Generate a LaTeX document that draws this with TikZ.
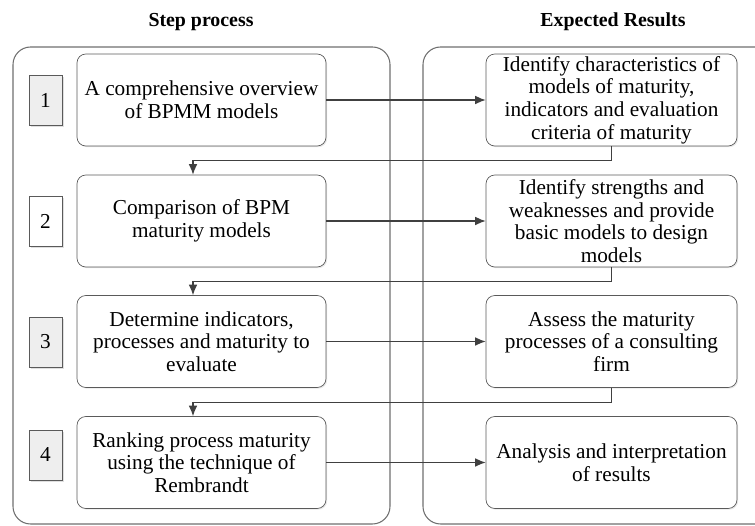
\documentclass[tikz,border=0pt]{standalone}
\usepackage{fontspec}
\setmainfont{Liberation Serif}
\usepackage{xcolor}
\usetikzlibrary{
arrows.meta,
positioning,
calc,
shadows
}
\definecolor{LineGray}{HTML}{404040}
\definecolor{BoxGray}{HTML}{5A5A5A}
\definecolor{PanelGray}{HTML}{6E6E6E}
\definecolor{NumFill}{HTML}{EEEEEE}

\begin{document}
\begin{tikzpicture}[x=0.02cm,y=-0.02cm,>={Latex[length=6pt,width=5pt]},every node/.style={font=\fontsize{12.1}{12.9}\selectfont, align=center},
    stepbox/.style={draw=BoxGray, fill=white, rounded corners=5pt, minimum width=4.98cm, minimum height=1.84cm, inner sep=1pt, drop shadow={shadow xshift=0.7pt, shadow yshift=-0.7pt, fill=black!18}},
    resbox/.style={stepbox, minimum width=5.02cm},
    numbox/.style={draw=BoxGray, fill=NumFill, minimum width=0.66cm, minimum height=1.0cm, inner sep=0pt, drop shadow={shadow xshift=0.9pt, shadow yshift=-0.9pt, fill=black!25}},
    link/.style={->, line width=0.7pt, LineGray}]
        \useasboundingbox (0,0) rectangle (755,526);
        \clip (0,0) rectangle (755,526);
        % column panels
        \draw[PanelGray, line width=0.6pt, rounded corners=10pt] (13,47) rectangle (390,524);
        \draw[PanelGray, line width=0.6pt, rounded corners=10pt] (423,47) rectangle (780,524);
        \node[font=\fontsize{11.3}{13}\selectfont\bfseries] (steptitle) at (201,22) {Step process};
        \node[font=\fontsize{11.3}{13}\selectfont\bfseries] (restitle) at (613,22) {Expected Results};
        % steps
        \node[numbox] (n1) at (45.5,100) {1};
        \node[numbox, fill=white] (n2) at (45.5,221.5) {2};
        \node[numbox] (n3) at (45.5,342) {3};
        \node[numbox] (n4) at (45.5,455) {4};
        \node[stepbox] (s1) at (201.5,100) {A comprehensive overview\\of BPMM models};
        \node[stepbox] (s2) at (201.5,221) {Comparison of BPM\\maturity models};
        \node[stepbox] (s3) at (201.5,341.5) {Determine indicators,\\processes and maturity to\\evaluate};
        \node[stepbox] (s4) at (201.5,462.5) {Ranking process maturity\\using the technique of\\Rembrandt};
        % results
        \node[resbox] (r1) at (611.5,100) {Identify characteristics of\\models of maturity,\\indicators and evaluation\\criteria of maturity};
        \node[resbox] (r2) at (611.5,221) {Identify strengths and\\weaknesses and provide\\basic models to design\\models};
        \node[resbox] (r3) at (611.5,341.5) {Assess the maturity\\processes of a consulting\\firm};
        \node[resbox] (r4) at (611.5,462.5) {Analysis and interpretation\\of results};
        % connectors
        \foreach \i in {1,...,4} {\draw[link] (s\i.east) -- (r\i.west);}
        \foreach \i/\j in {1/2,2/3,3/4} {\draw[link] (r\i.south) -- ++(0,14.5) -| ([xshift=-0.17cm]s\j.north);}
    \end{tikzpicture}
\end{document}
